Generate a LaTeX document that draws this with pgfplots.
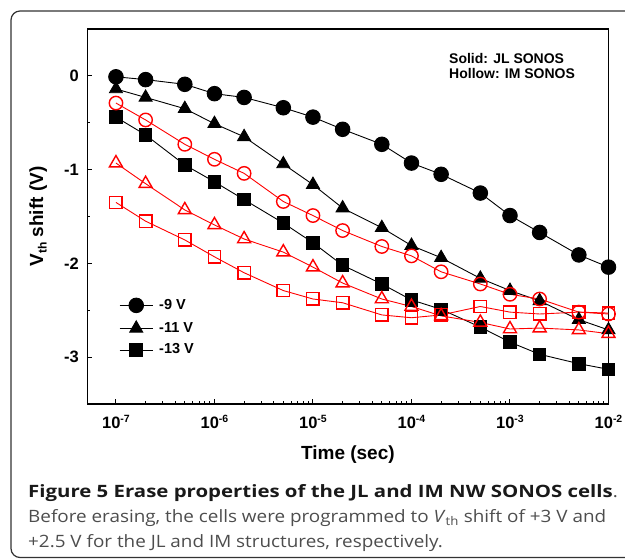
\documentclass[border=0pt]{standalone}
\usepackage{pgfplots}
\pgfplotsset{compat=1.18}
\usepackage{pgfplotstable}
\usepackage{fontspec}
\setmainfont{Liberation Sans}
\newfontfamily\capfont[FakeStretch=1.11, BoldFeatures={FakeStretch=1.2}]{Open Sans}
\definecolor{capgray}{HTML}{4D4D4D}
\definecolor{framegray}{HTML}{333333}

% decade tick label, bold with small raised exponent
\newcommand{\dec}[1]{\textbf{10\raisebox{6pt}{\fontsize{10.5}{10.5}\selectfont\bfseries #1}}}

% erase time (s) vs Vth shift (V); JL = solid, IM = hollow
\pgfplotstableread{
t     JL9   JL11  JL13  IM9   IM11  IM13
1e-7 -0.01 -0.14 -0.44 -0.29 -0.93 -1.35
2e-7 -0.04 -0.23 -0.63 -0.47 -1.15 -1.55
5e-7 -0.09 -0.35 -0.95 -0.73 -1.43 -1.75
1e-6 -0.19 -0.51 -1.13 -0.89 -1.59 -1.93
2e-6 -0.23 -0.65 -1.32 -1.04 -1.74 -2.10
5e-6 -0.34 -0.94 -1.57 -1.34 -1.88 -2.29
1e-5 -0.44 -1.16 -1.78 -1.49 -2.04 -2.38
2e-5 -0.57 -1.41 -2.02 -1.65 -2.21 -2.42
5e-5 -0.73 -1.62 -2.22 -1.82 -2.38 -2.55
1e-4 -0.93 -1.81 -2.39 -1.92 -2.46 -2.58
2e-4 -1.05 -1.94 -2.49 -2.09 -2.56 -2.55
5e-4 -1.25 -2.16 -2.68 -2.22 -2.63 -2.46
1e-3 -1.49 -2.29 -2.84 -2.33 -2.70 -2.52
2e-3 -1.67 -2.40 -2.97 -2.38 -2.69 -2.54
5e-3 -1.91 -2.60 -3.07 -2.52 -2.71 -2.52
1e-2 -2.04 -2.71 -3.13 -2.54 -2.75 -2.53
}\erase

\begin{document}
\begin{tikzpicture}[x=1pt,y=1pt]
\path[use as bounding box] (0,0) rectangle (625,560);
\begin{scope}
  \clip (0,0) rectangle (625,560);
  \draw[framegray, line width=1.2pt, rounded corners=9pt] (11,2.5) rectangle (660,549);
\end{scope}

\begin{axis}[
  at={(87.3pt,156pt)}, anchor=south west,
  scale only axis, width=521.2pt, height=375pt,
  xmode=log, xmin=5.117e-8, xmax=1e-2,
  ymin=-3.5, ymax=0.5,
  xtick={1e-7,1e-6,1e-5,1e-4,1e-3,1e-2},
  xticklabels={\dec{-7},\dec{-6},\dec{-5},\dec{-4},\dec{-3},\dec{-2}},
  ytick={-3,-2,-1,0},
  yticklabels={-3,-2,-1,0},
  minor ytick={-3.5,-2.5,-1.5,-0.5},
  tick align=inside, xtick pos=bottom, ytick pos=left,
  major tick length=5pt, minor tick length=3pt,
  every tick/.style={black, line width=1pt},
  axis line style={line width=1.3pt},
  tick label style={font=\fontsize{16.5}{19}\selectfont\bfseries},
  xticklabel style={yshift=-8pt},
  yticklabel style={xshift=-5pt},
  xlabel={Time (sec)},
  ylabel={V\raisebox{-3.5pt}{\fontsize{12}{12}\selectfont\bfseries th} shift (V)},
  label style={font=\fontsize{19}{22}\selectfont\bfseries},
  xlabel style={at={(axis description cs:0.5,-0.136)}, anchor=center},
  ylabel style={at={(axis description cs:-0.094,0.5)}, anchor=center},
  legend image code/.code={\draw[mark repeat=2,mark phase=2,#1] plot coordinates {(0pt,0pt)(16.5pt,0pt)(33pt,0pt)};},
  legend style={draw=none, fill=none, at={(axis description cs:0.061,0.283)}, anchor=north west,
    font=\fontsize{14.5}{17}\selectfont\bfseries, inner sep=0pt, row sep=8.2pt,
    nodes={inner sep=0pt, text height=10.5pt, text depth=3pt}},
  legend cell align=left,
]
\addplot[black, line width=0.9pt, mark=*, mark size=7.3pt, mark options={fill=black, solid}] table[x=t, y=JL9] {\erase};
\addlegendentry{\hspace{6pt}-9 V}
\addplot[black, line width=0.9pt, mark=triangle*, mark size=7.5pt, mark options={fill=black, solid}] table[x=t, y=JL11] {\erase};
\addlegendentry{\hspace{6pt}-11 V}
\addplot[black, line width=0.9pt, mark=square*, mark size=6.3pt, mark options={fill=black, solid}] table[x=t, y=JL13] {\erase};
\addlegendentry{\hspace{6pt}-13 V}
\addplot[red, line width=0.9pt, mark=o, mark size=6.7pt, mark options={line width=1.4pt, fill=none}, forget plot] table[x=t, y=IM9] {\erase};
\addplot[red, line width=0.9pt, mark=triangle, mark size=7.5pt, mark options={line width=1.4pt, fill=none}, forget plot] table[x=t, y=IM11] {\erase};
\addplot[red, line width=0.9pt, mark=square, mark size=6.2pt, mark options={line width=1.4pt, fill=none}, forget plot] table[x=t, y=IM13] {\erase};

\node[anchor=base west, inner sep=0pt, font=\fontsize{14}{16}\selectfont\bfseries] at (rel axis cs:0.694,0.909) {Solid: JL SONOS};
\node[anchor=base west, inner sep=0pt, font=\fontsize{14}{16}\selectfont\bfseries] at (rel axis cs:0.694,0.867) {Hollow: IM SONOS};
\end{axis}

\begin{scope}[every node/.style={anchor=base west, inner sep=0pt, font=\capfont\fontsize{17}{20}\selectfont}]
  \node[text=black!90] at (28,62.7) {\textbf{Figure 5 Erase properties of the JL and IM NW SONOS cells}\textcolor{capgray}{.}};
  \node[text=capgray] at (28,37.7) {Before erasing, the cells were programmed to \textit{V}\textsubscript{th} shift of +3 V and};
  \node[text=capgray] at (28,12.7) {+2.5 V for the JL and IM structures, respectively.};
\end{scope}
\end{tikzpicture}
\end{document}
